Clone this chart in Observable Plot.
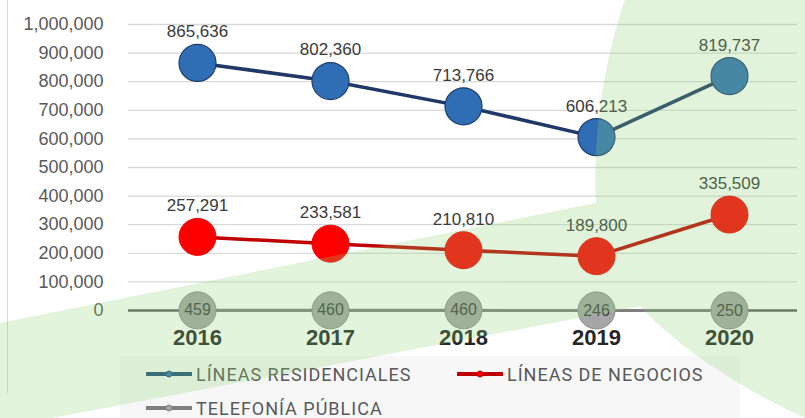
<!DOCTYPE html>
<html>
<head>
<meta charset="utf-8">
<script src="https://cdn.jsdelivr.net/npm/d3@7"></script>
<script src="https://cdn.jsdelivr.net/npm/@observablehq/plot@0.6"></script>
<style>
  body { margin: 0; background: #fff; }
  #wrap { position: relative; width: 805px; height: 418px; overflow: hidden; background: #fff; font-family: "Liberation Sans", Arial, sans-serif; }
  #chart svg { display: block; }
  #legend { position: absolute; left: 120px; top: 356px; width: 620px; height: 70px; background: #f7f7f7; }
  .item { position: absolute; display: flex; align-items: center; height: 20px; font-family: Roboto, sans-serif; font-size: 18px; letter-spacing: 1px; color: #595959; white-space: nowrap; }
  .item svg { margin-right: 4px; }
  #border { position: absolute; left: 7px; top: 0; width: 1px; height: 393px; background: #d9d9d9; }
  #overlay { position: absolute; left: 0; top: 0; pointer-events: none; }
</style>
</head>
<body>
<div id="wrap">
  <div id="chart"></div>
  <div id="legend"></div>
  <div id="border"></div>
  <svg id="overlay" width="805" height="418" viewBox="0 0 805 418">
    <g fill="rgb(139,211,115)" opacity="0.25">
      <path d="M0 323 L700 182 L700 295 L0 428 Z"></path>
      <path d="M625 0 C600 70, 588 170, 600 240 C615 300, 700 370, 805 418 L805 0 Z"></path>
    </g>
  </svg>
</div>
<script>
const years = ["2016", "2017", "2018", "2019", "2020"];
const residenciales = [865636, 802360, 713766, 606213, 819737];
const negocios = [257291, 233581, 210810, 189800, 335509];
const publica = [459, 460, 460, 246, 250];
const yTicks = [0, 100000, 200000, 300000, 400000, 500000, 600000, 700000, 800000, 900000, 1000000];
const seriesNames = ["LÍNEAS RESIDENCIALES", "LÍNEAS DE NEGOCIOS", "TELEFONÍA PÚBLICA"];

const toRows = (vals) => years.map((y, i) => ({year: y, value: vals[i]}));
const res = toRows(residenciales);
const neg = toRows(negocios);
const pub = toRows(publica);
const fmt = d3.format(",");

const chart = Plot.plot({
  width: 805,
  height: 350,
  marginLeft: 128,
  marginRight: 8,
  marginTop: 24,
  marginBottom: 40,
  style: {fontFamily: "Liberation Sans, Arial, sans-serif", background: "transparent"},
  x: {type: "point", domain: years, padding: 0.5, axis: null},
  y: {domain: [0, 1000000], axis: null},
  marks: [
    Plot.ruleY(yTicks.filter(d => d > 0), {stroke: "#d9d9d9", strokeWidth: 1.3}),
    Plot.text(yTicks, {y: d => d, frameAnchor: "left", dx: -25, textAnchor: "end", text: d => fmt(d), fontSize: 18, fill: "#595959"}),
    Plot.ruleY([0], {stroke: "#5f5f5f", strokeWidth: 2.5}),
    Plot.text(years, {x: d => d, frameAnchor: "bottom", dy: 34, text: d => d, fontSize: 22, fontWeight: "bold", fill: "#262626"}),
    Plot.line(pub, {x: "year", y: "value", stroke: "#7f7f7f", strokeWidth: 3}),
    Plot.line(neg, {x: "year", y: "value", stroke: "#c00000", strokeWidth: 3.5}),
    Plot.line(res, {x: "year", y: "value", stroke: "#1f3868", strokeWidth: 3.5}),
    Plot.dot(pub, {x: "year", y: "value", r: 18.5, fill: "#a6a6a6", stroke: "#8c8c8c", strokeWidth: 1}),
    Plot.dot(neg, {x: "year", y: "value", r: 18.5, fill: "#ff0000", stroke: "#ee0000", strokeWidth: 1}),
    Plot.dot(res, {x: "year", y: "value", r: 18.5, fill: "#2f6eb5", stroke: "#1f3d6e", strokeWidth: 1.2}),
    Plot.text(res, {x: "year", y: "value", text: d => fmt(d.value), dy: -31, fontSize: 17, fill: "#3a3a3a"}),
    Plot.text(neg, {x: "year", y: "value", text: d => fmt(d.value), dy: -31, fontSize: 17, fill: "#3a3a3a"}),
    Plot.text(pub, {x: "year", y: "value", text: d => fmt(d.value), fontSize: 16, fill: "#404040"})
  ]
});
document.getElementById("chart").appendChild(chart);

// Legend
const legendItems = [
  {name: seriesNames[0], line: "#1f4e79", dot: "#2e75b6", left: 26, top: 8},
  {name: seriesNames[1], line: "#c00000", dot: "#ff0000", left: 337, top: 8},
  {name: seriesNames[2], line: "#7f7f7f", dot: "#a6a6a6", left: 26, top: 42}
];
const legend = document.getElementById("legend");
for (const it of legendItems) {
  const div = document.createElement("div");
  div.className = "item";
  div.style.left = it.left + "px";
  div.style.top = it.top + "px";
  div.innerHTML = `<svg width="46" height="10"><line x1="1" y1="5" x2="45" y2="5" stroke="${it.line}" stroke-width="4" stroke-linecap="round"/><circle cx="23" cy="5" r="3" fill="${it.dot}" stroke="${it.line}" stroke-width="1"/></svg><span>${it.name}</span>`;
  legend.appendChild(div);
}
</script>
</body>
</html>
